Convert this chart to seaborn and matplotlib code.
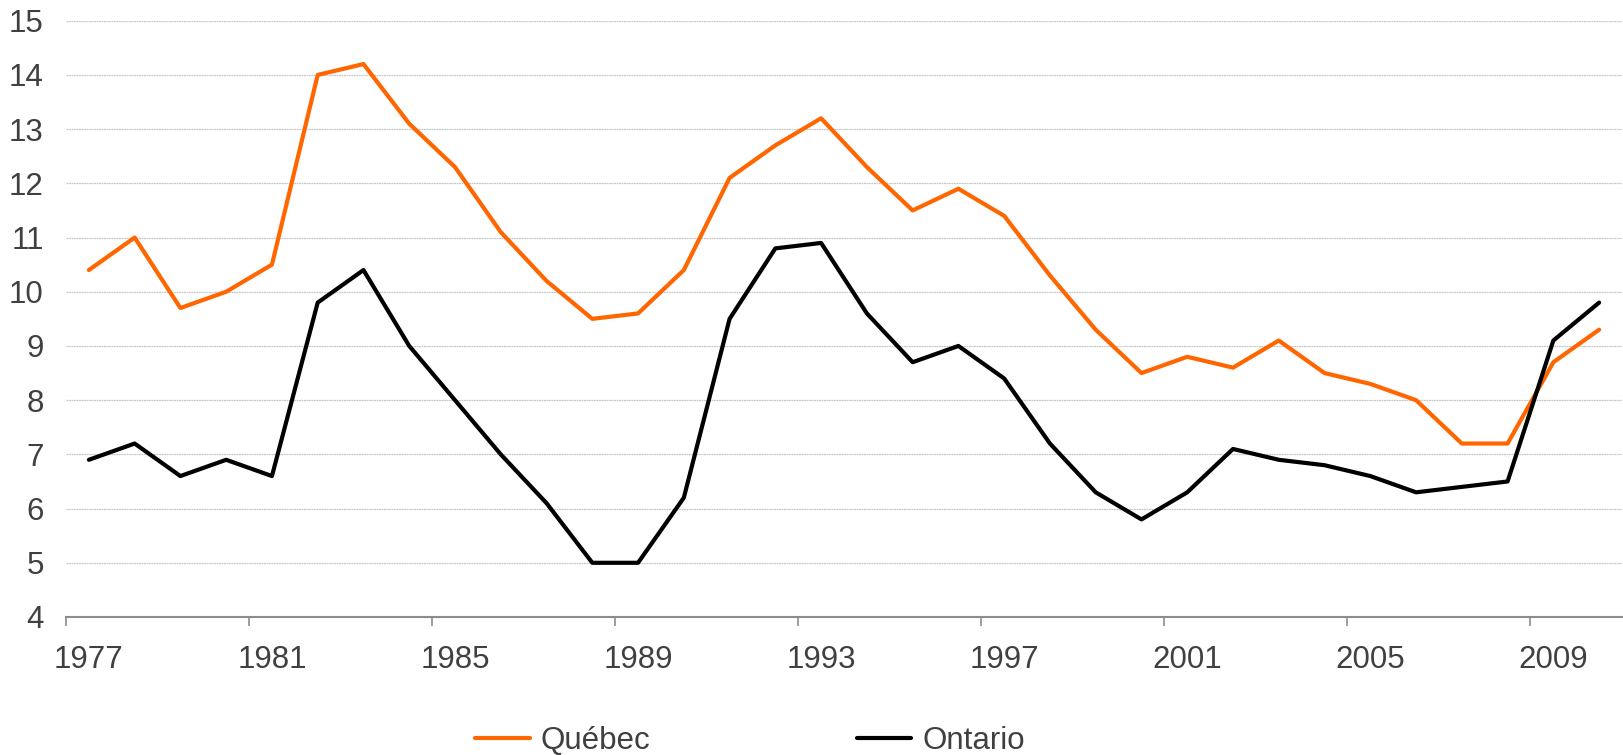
import matplotlib
matplotlib.use("Agg")
import matplotlib.pyplot as plt
import numpy as np
import pandas as pd
import seaborn as sns

years = list(range(1977, 2011))
quebec = [10.4, 11.0, 9.7, 10.0, 10.5, 14.0, 14.2, 13.1, 12.3, 11.1,
          10.2, 9.5, 9.6, 10.4, 12.1, 12.7, 13.2, 12.3, 11.5, 11.9,
          11.4, 10.3, 9.3, 8.5, 8.8, 8.6, 9.1, 8.5, 8.3, 8.0,
          7.2, 7.2, 8.7, 9.3]
ontario = [6.9, 7.2, 6.6, 6.9, 6.6, 9.8, 10.4, 9.0, 8.0, 7.0,
           6.1, 5.0, 5.0, 6.2, 9.5, 10.8, 10.9, 9.6, 8.7, 9.0,
           8.4, 7.2, 6.3, 5.8, 6.3, 7.1, 6.9, 6.8, 6.6, 6.3,
           6.4, 6.5, 9.1, 9.8]
series_names = ["Québec", "Ontario"]
colors = ["#FF6600", "#000000"]
label_years = [1977, 1981, 1985, 1989, 1993, 1997, 2001, 2005, 2009]
y_ticks = list(range(4, 16))

df = pd.DataFrame({
    "Année": years * 2,
    "Taux": quebec + ontario,
    "Région": [series_names[0]] * len(years) + [series_names[1]] * len(years),
})

sns.set_theme(style="white")
plt.rcParams["font.family"] = ["Liberation Sans", "DejaVu Sans"]
text_color = "#404040"
fs = 22.5

fig = plt.figure(figsize=(16.23, 7.55), dpi=100)
ax = fig.add_axes([66 / 1623, 1 - 617 / 755, 1 - 67 / 1623, (617 - 20.7) / 755])

sns.lineplot(data=df, x="Année", y="Taux", hue="Région",
             palette=dict(zip(series_names, colors)), linewidth=3.0, ax=ax,
             legend=False)

ax.set_xlim(years[0] - 0.5, years[-1] + 0.5)
ax.set_ylim(4, 15)
ax.set_yticks(y_ticks)
ax.set_yticklabels([str(v) for v in y_ticks])

# tick marks between categories, labels centred on them
ax.set_xticks([y - 0.5 for y in label_years])
ax.set_xticklabels([])
ax.set_xticks(label_years, minor=True)
ax.set_xticklabels([str(y) for y in label_years], minor=True)
ax.tick_params(axis="x", which="major", length=6.5, width=1.2, color="#8c8c8c",
               direction="out", bottom=True)
ax.tick_params(axis="x", which="minor", length=0, pad=20, labelsize=fs,
               labelcolor=text_color)
ax.tick_params(axis="y", length=0, pad=16, labelsize=fs, labelcolor=text_color)

ax.grid(axis="y", color="#c8c8c8", linewidth=0.9, linestyle=(0, (1.5, 0.5)))
ax.grid(axis="x", visible=False)
ax.set_axisbelow(True)
for side in ["left", "right", "top"]:
    ax.spines[side].set_visible(False)
ax.spines["bottom"].set_color("#8c8c8c")
ax.spines["bottom"].set_linewidth(1.5)
ax.set_xlabel("")
ax.set_ylabel("")

handles = [plt.Line2D([], [], color=c, linewidth=3.0) for c in colors]
leg = fig.legend(handles, series_names, loc="center", ncol=2,
                 bbox_to_anchor=(750 / 1623, 1 - 741 / 755), frameon=False,
                 fontsize=fs, handlelength=1.75, handletextpad=0.35,
                 columnspacing=6.6)
for t in leg.get_texts():
    t.set_color(text_color)

fig.savefig("out.png", dpi=100)
